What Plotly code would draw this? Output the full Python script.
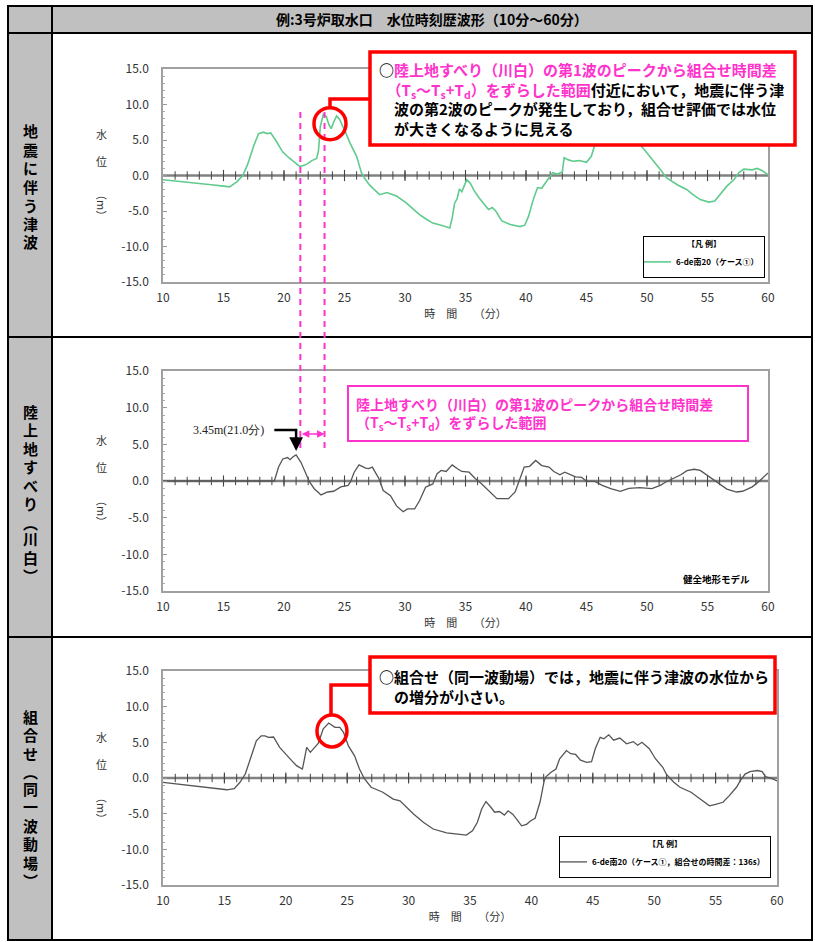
import plotly.graph_objects as go

W, H = 815, 942

# ---------------- data ----------------
eq_t = [10.0, 11.0, 12.0, 13.0, 14.0, 15.0, 15.5, 16.1, 16.6, 17.0, 17.5, 17.9, 18.3, 18.6, 18.9, 19.3, 19.9,
        20.4, 20.9, 21.3, 21.6, 21.9, 22.3, 22.7, 22.85, 23.0, 23.25, 23.5, 23.7, 23.9, 24.1, 24.35, 24.6,
        24.8, 25.1, 25.45, 26.0, 26.4, 26.7, 27.1, 27.5, 27.9, 28.5, 29.3, 30.1, 30.7, 31.2, 31.8, 32.3,
        33.2, 33.7, 33.9, 34.1, 34.3, 34.5, 34.7, 34.9, 35.1, 35.4, 35.7, 36.1, 36.6, 36.9, 37.2, 37.5,
        38.0, 38.7, 39.5, 39.9, 40.2, 40.6, 40.95, 41.3, 41.7, 42.2, 42.6, 43.0, 43.15, 43.5, 43.9, 44.4,
        45.0, 45.4, 45.7, 46.0, 46.5, 47.0, 47.5, 48.0, 48.6, 49.0, 49.4, 49.8, 50.25, 50.7, 51.1, 51.6,
        52.0, 52.5, 53.3, 53.8, 54.4, 55.1, 55.6, 56.0, 56.6, 57.2, 57.6, 58.0, 58.4, 58.7, 59.1, 59.5, 60.0]
eq_v = [-0.6, -0.75, -0.9, -1.1, -1.3, -1.5, -1.6, -0.9, 0.0, 1.6, 4.2, 5.9, 6.1, 5.9, 6.0, 5.0, 3.3,
        2.5, 1.9, 1.3, 1.4, 1.6, 2.1, 2.4, 3.5, 6.9, 8.6, 8.3, 7.2, 6.6, 7.5, 8.4, 7.9,
        7.2, 6.0, 4.6, 2.7, 0.4, -0.5, -1.4, -2.1, -2.7, -2.4, -2.9, -3.85, -4.7, -5.5, -6.2, -6.7,
        -7.1, -7.4, -6.0, -3.9, -3.3, -1.9, -2.3, -1.5, -0.6, -1.1, -2.1, -3.1, -4.1, -4.8, -4.5, -5.0,
        -6.4, -6.9, -7.2, -7.0, -5.8, -3.4, -1.7, -1.8, -0.8, 0.4, 0.2, 0.5, 2.5, 2.2, 2.0, 2.1,
        1.85, 2.7, 4.4, 5.8, 6.6, 6.2, 6.5, 6.0, 5.6, 5.0, 4.4, 3.6, 2.7, 1.7, 0.85, -0.3,
        -0.8, -1.3, -2.0, -2.7, -3.4, -3.75, -3.6, -2.7, -1.5, -0.56, 0.4, 0.9, 0.8, 0.8, 1.0, 0.7, 0.1]

ls_t = [10.0, 19.2, 19.55, 19.9, 20.3, 20.5, 20.75, 21.0, 21.4, 21.8, 22.1, 22.5, 23.06, 23.6, 24.1, 24.7,
        25.3, 25.5, 25.8, 26.2, 26.75, 27.0, 27.3, 27.85, 28.2, 28.8, 29.3, 29.85, 30.2, 30.8, 31.2, 31.7,
        32.3, 32.65, 33.0, 33.4, 33.9, 34.3, 34.7, 35.3, 35.8, 36.3, 36.9, 37.6, 38.55, 39.1, 39.5, 39.85,
        40.3, 40.8, 41.3, 41.9, 42.3, 42.8, 43.2, 43.7, 44.1, 44.6, 45.0, 45.7, 46.3, 47.0, 47.8, 48.5,
        49.4, 50.4, 51.1, 51.6, 52.2, 52.8, 53.3, 53.9, 54.4, 55.2, 55.9, 56.6, 57.4, 57.9, 58.7, 59.3, 60.0]
ls_v = [0.0, 0.0, 1.9, 3.0, 3.2, 2.9, 3.3, 3.55, 2.55, 1.0, -0.1, -1.05, -1.9, -1.5, -1.4, -0.8,
        -0.6, -0.1, 1.2, 2.2, 1.75, 1.7, 1.9, 0.3, -1.3, -2.0, -3.4, -4.2, -3.8, -3.8, -2.7, -0.85,
        -0.4, 1.0, 1.45, 1.3, 2.2, 1.7, 1.3, 1.2, 0.35, -0.35, -1.3, -2.4, -2.4, -1.5, 0.3, 1.9,
        2.0, 2.8, 2.1, 1.9, 1.3, 0.85, 1.2, 0.8, 0.55, 0.5, -0.05, -0.05, -0.6, -1.05, -1.4, -1.0,
        -0.9, -1.05, -0.6, -0.1, 0.4, 0.85, 1.4, 1.6, 1.45, 0.55, -0.35, -1.1, -1.5, -1.4, -0.8, 0.0, 1.1]

cb_t = [10.0, 11.0, 12.0, 13.0, 14.0, 15.2, 15.8, 16.27, 16.7, 17.1, 17.6, 18.0, 18.3, 18.6, 19.0, 19.5,
        20.1, 20.5, 20.9, 21.35, 21.5, 21.7, 22.0, 22.2, 22.65, 23.05, 23.5, 24.0, 24.4, 24.7, 25.1, 25.6,
        26.0, 26.4, 26.95, 27.9, 28.75, 29.3, 30.4, 31.2, 32.0, 33.1, 34.45, 34.7, 35.2, 35.6, 35.95, 36.3,
        36.7, 37.0, 37.4, 37.8, 38.1, 38.5, 38.9, 39.2, 39.6, 39.95, 40.3, 40.7, 41.04, 41.2, 41.6, 42.0,
        42.3, 42.85, 43.2, 43.6, 44.0, 44.5, 44.9, 45.2, 45.6, 45.9, 46.3, 46.7, 47.2, 47.75, 48.3, 48.65,
        49.0, 49.6, 50.1, 50.7, 51.0, 51.6, 52.1, 53.0, 53.75, 54.5, 55.0, 55.6, 56.1, 56.7, 57.0, 57.4,
        57.8, 58.4, 58.8, 59.05, 59.6, 60.0]
cb_v = [-0.6, -0.8, -1.0, -1.2, -1.4, -1.65, -1.5, -0.6, 0.55, 2.65, 5.2, 5.9, 5.9, 5.7, 5.75, 4.3,
        3.1, 2.4, 1.7, 1.25, 2.5, 4.3, 3.6, 4.05, 4.9, 6.9, 7.7, 7.1, 7.1, 6.4, 4.5, 3.1,
        1.25, -0.1, -1.3, -2.0, -2.95, -3.2, -5.05, -6.2, -7.15, -7.7, -7.95, -8.0, -7.4, -6.2, -4.35, -3.3,
        -4.1, -4.8, -4.7, -5.2, -4.6, -5.1, -6.0, -6.7, -6.5, -6.0, -5.65, -3.4, -0.4, 0.2, 0.8, 1.25,
        2.7, 3.85, 3.4, 3.3, 2.5, 2.2, 2.3, 4.1, 5.7, 5.5, 6.05, 5.3, 5.6, 4.8, 5.1, 4.6,
        5.0, 4.1, 2.7, 1.5, 0.5, -0.6, -1.3, -2.0, -2.95, -3.9, -3.7, -3.4, -2.5, -1.3, -0.4, 0.55,
        0.9, 1.05, 0.9, 0.2, -0.1, -0.4]

x_tick_vals = [10, 15, 20, 25, 30, 35, 40, 45, 50, 55, 60]
x_tick_text = ["10", "15", "20", "25", "30", "35", "40", "45", "50", "55", "60"]
y_tick_vals = [-15, -10, -5, 0, 5, 10, 15]
y_tick_text = ["-15.0", "-10.0", "-5.0", "0.0", "5.0", "10.0", "15.0"]
minute_marks = list(range(11, 60))
five_marks = [15, 20, 25, 30, 35, 40, 45, 50, 55]

peak_t, peak_v = 21.0, 3.45
shift_start, shift_end = 21.35, 23.35
circle1 = (23.8, 7.3)
circle3 = (23.76, 6.6)

row_label_1 = ["地", "震", "に", "伴", "う", "津", "波"]
row_label_2 = ["陸", "上", "地", "す", "べ", "り", "︵", "川", "白", "︶"]
row_label_3 = ["組", "合", "せ", "︵", "同", "一", "波", "動", "場", "︶"]

MAG = "#ff33cc"
GREEN = "#5fcb8d"
GRAYLINE = "#555555"
JP = "Noto Sans CJK JP"


def px(x):
    return x / W


def py(y):
    return 1 - y / H


fig = go.Figure()

panels = [("x", "y"), ("x2", "y2"), ("x3", "y3")]
for xa, ya in panels:
    fig.add_trace(go.Scatter(x=[10, 60], y=[0, 0], mode="lines", xaxis=xa, yaxis=ya,
                             line=dict(color="#808080", width=2.5), showlegend=False, hoverinfo="skip"))
    fig.add_trace(go.Scatter(x=minute_marks, y=[0] * len(minute_marks), mode="markers", xaxis=xa, yaxis=ya,
                             marker=dict(symbol="line-ns", size=6, line=dict(width=1, color="#444")),
                             showlegend=False, hoverinfo="skip"))
    fig.add_trace(go.Scatter(x=five_marks, y=[0] * len(five_marks), mode="markers", xaxis=xa, yaxis=ya,
                             marker=dict(symbol="line-ns", size=8, line=dict(width=1.1, color="#444")),
                             showlegend=False, hoverinfo="skip"))

fig.add_trace(go.Scatter(x=eq_t, y=eq_v, mode="lines", xaxis="x", yaxis="y", name="6-de南20（ケース①）",
                         line=dict(color=GREEN, width=1.6), legend="legend"))
fig.add_trace(go.Scatter(x=ls_t, y=ls_v, mode="lines", xaxis="x2", yaxis="y2", showlegend=False,
                         line=dict(color=GRAYLINE, width=1.3)))
fig.add_trace(go.Scatter(x=cb_t, y=cb_v, mode="lines", xaxis="x3", yaxis="y3",
                         name="6-de南20（ケース①，組合せの時間差：136s）",
                         line=dict(color=GRAYLINE, width=1.3), legend="legend2"))


def xax(domain, anchor):
    return dict(domain=domain, anchor=anchor, range=[10, 60], tickvals=x_tick_vals, ticktext=x_tick_text,
                showline=True, linecolor="#a0a0a0", linewidth=1.5, mirror=True, showgrid=False,
                zeroline=False, ticks="", tickfont=dict(family=JP, size=12, color="#333"), automargin=False,
                ticklabelstandoff=4,
                title=dict(text="時　間　　（分）", font=dict(family=JP, size=11, color="#333"), standoff=5))


def yax(domain, anchor):
    return dict(domain=domain, anchor=anchor, range=[-15, 15], tickvals=y_tick_vals, ticktext=y_tick_text,
                showline=True, linecolor="#a0a0a0", linewidth=1.5, mirror=True, showgrid=False,
                zeroline=False, ticks="inside", ticklen=4, tickcolor="#999", automargin=False,
                minor=dict(dtick=1, ticks="inside", ticklen=2, tickcolor="#aaa"),
                tickfont=dict(family=JP, size=12, color="#333"), ticklabelstandoff=10)


LEG_FONT = dict(family=JP, size=8, weight="bold")
fig.update_layout(
    width=W, height=H, margin=dict(l=0, r=0, t=0, b=0, pad=0, autoexpand=False),
    paper_bgcolor="white", plot_bgcolor="white",
    font=dict(family=JP, color="black"),
    xaxis=xax([px(163), px(768)], "y"), yaxis=yax([py(282), py(69)], "x"),
    xaxis2=xax([px(163), px(768)], "y2"), yaxis2=yax([py(591), py(371)], "x2"),
    xaxis3=xax([px(163), px(777)], "y3"), yaxis3=yax([py(885), py(671)], "x3"),
    legend=dict(x=px(643), y=py(278), xanchor="left", yanchor="bottom", bgcolor="white",
                bordercolor="black", borderwidth=1, font=LEG_FONT,
                title=dict(text="【凡 例】", side="top center", font=LEG_FONT),
                itemwidth=30, tracegroupgap=0, indentation=-8),
    legend2=dict(x=px(559), y=py(878), xanchor="left", yanchor="bottom", bgcolor="white",
                 bordercolor="black", borderwidth=1, font=LEG_FONT,
                 title=dict(text="【凡 例】", side="top center", font=LEG_FONT),
                 itemwidth=30, tracegroupgap=0, indentation=-8),
)

shapes = []
GRAY = "#c0c0c0"
# table fills
shapes.append(dict(type="rect", xref="paper", yref="paper", x0=px(8), x1=px(812), y0=py(33), y1=py(6),
                   fillcolor=GRAY, line=dict(width=0), layer="below"))
shapes.append(dict(type="rect", xref="paper", yref="paper", x0=px(8), x1=px(52), y0=py(940), y1=py(33),
                   fillcolor=GRAY, line=dict(width=0), layer="below"))
# table lines
for yy in [33, 337, 637]:
    shapes.append(dict(type="line", xref="paper", yref="paper", x0=px(8), x1=px(812), y0=py(yy), y1=py(yy),
                       line=dict(color="black", width=2)))
shapes.append(dict(type="line", xref="paper", yref="paper", x0=px(52), x1=px(52), y0=py(6), y1=py(940),
                   line=dict(color="black", width=2)))
shapes.append(dict(type="rect", xref="paper", yref="paper", x0=px(8), x1=px(812), y0=py(940), y1=py(6),
                   line=dict(color="black", width=2)))

# dashed shift range lines
for tt in [shift_start, shift_end]:
    shapes.append(dict(type="line", xref="x", yref="paper", x0=tt, x1=tt, y0=py(112), y1=py(453),
                       line=dict(color=MAG, width=2, dash="6px,5px")))

# panel 1 red callout
shapes.append(dict(type="rect", xref="paper", yref="paper", x0=px(370), x1=px(795), y0=py(145), y1=py(52),
                   fillcolor="white", line=dict(color="red", width=3.5)))
shapes.append(dict(type="path", xref="paper", yref="paper",
                   path=f"M {px(370)},{py(99)} L {px(330)},{py(99)} L {px(330)},{py(108)}",
                   line=dict(color="red", width=3.5)))
shapes.append(dict(type="circle", xref="x", yref="y", xsizemode="pixel", ysizemode="pixel",
                   xanchor=circle1[0], yanchor=circle1[1], x0=-16, x1=16, y0=-16, y1=16,
                   line=dict(color="red", width=3.5)))

# panel 2 magenta box
shapes.append(dict(type="rect", xref="paper", yref="paper", x0=px(348), x1=px(748), y0=py(441), y1=py(386),
                   fillcolor="white", line=dict(color=MAG, width=2)))
# black elbow arrow
shapes.append(dict(type="path", xref="x2", yref="y2",
                   path=f"M 19.2,6.96 L {peak_t},6.96 L {peak_t},5.2",
                   line=dict(color="black", width=2.5)))

# panel 3 red callout
shapes.append(dict(type="rect", xref="paper", yref="paper", x0=px(370), x1=px(775), y0=py(713), y1=py(657),
                   fillcolor="white", line=dict(color="red", width=3.5)))
shapes.append(dict(type="path", xref="paper", yref="paper",
                   path=f"M {px(370)},{py(685)} L {px(331)},{py(685)} L {px(331)},{py(716)}",
                   line=dict(color="red", width=3.5)))
shapes.append(dict(type="circle", xref="x3", yref="y3", xsizemode="pixel", ysizemode="pixel",
                   xanchor=circle3[0], yanchor=circle3[1], x0=-15, x1=15, y0=-16, y1=16,
                   line=dict(color="red", width=3.5)))

fig.update_layout(shapes=shapes)

ann = []
B = dict(family=JP, weight="bold", color="black")
C = dict(xanchor="center", yanchor="middle", showarrow=False, xref="paper", yref="paper")
ann.append(dict(C, x=px(432), y=py(19), text="例:3号炉取水口　水位時刻歴波形（10分～60分）",
                font=dict(B, size=14)))


def stack_label(chars, y_start):
    yy = y_start
    for ch in chars:
        ann.append(dict(C, x=px(30), y=py(yy), text=ch, font=dict(B, size=15)))
        nxt = 16.5 if ch in "︵︶" else 18.5
        yy += nxt


stack_label(row_label_1, 131)
stack_label(row_label_2, 411)
stack_label(row_label_3, 716)

for zero_y in [176, 482, 779]:
    ann.append(dict(C, x=px(101), y=py(zero_y - 42), text="水", font=dict(family=JP, size=11, color="#333")))
    ann.append(dict(C, x=px(101), y=py(zero_y - 15), text="位", font=dict(family=JP, size=11, color="#333")))
    ann.append(dict(C, x=px(102), y=py(zero_y + 29), text="（m）", textangle=90,
                    font=dict(family=JP, size=11, color="#333")))

box1 = ('○<span style="color:#ff33cc">陸上地すべり（川白）の第1波のピークから組合せ時間差</span><br>'
        '　<span style="color:#ff33cc">（T<sub>s</sub>～T<sub>s</sub>+T<sub>d</sub>）をずらした範囲</span>付近において，地震に伴う津<br>'
        '　波の第2波のピークが発生しており，組合せ評価では水位<br>'
        '　が大きくなるように見える')
ann.append(dict(C, x=px(377), y=py(99), xanchor="left", align="left", text=box1, font=dict(B, size=15)))

box2 = ('陸上地すべり（川白）の第1波のピークから組合せ時間差<br>'
        '（T<sub>s</sub>～T<sub>s</sub>+T<sub>d</sub>）をずらした範囲')
ann.append(dict(C, x=px(354), y=py(414), xanchor="left", align="left", text=box2,
                font=dict(family=JP, weight="bold", color=MAG, size=14)))

box3 = '○組合せ（同一波動場）では，地震に伴う津波の水位から<br>　の増分が小さい。'
ann.append(dict(C, x=px(377), y=py(686), xanchor="left", align="left", text=box3, font=dict(B, size=15)))

# double arrow for shift range
ann.append(dict(xref="x2", yref="y2", axref="x2", ayref="y2", x=shift_end, y=6.4, ax=shift_start, ay=6.4,
                text="", showarrow=True, arrowside="end+start", arrowhead=2, arrowsize=1, arrowwidth=1.5,
                arrowcolor=MAG))
# black arrow head to the landslide peak
ann.append(dict(xref="x2", yref="y2", axref="x2", ayref="y2", x=peak_t, y=4.1, ax=peak_t, ay=5.6,
                text="", showarrow=True, arrowhead=2, arrowsize=1.1, arrowwidth=2.5, arrowcolor="black"))
ann.append(dict(xref="x2", yref="y2", x=18.5, y=6.96, xanchor="right", yanchor="middle", showarrow=False,
                text=f"{peak_v:.2f}m({peak_t:.1f}分)", font=dict(family="Liberation Serif", size=12, color="#222")))

ann.append(dict(C, x=px(716), y=py(579), text="健全地形モデル", font=dict(B, size=9.5)))

fig.update_layout(annotations=ann)

fig.write_html("out.html", config={"displayModeBar": False},
               post_script="document.body.style.margin='0px';document.body.style.overflow='hidden';")
